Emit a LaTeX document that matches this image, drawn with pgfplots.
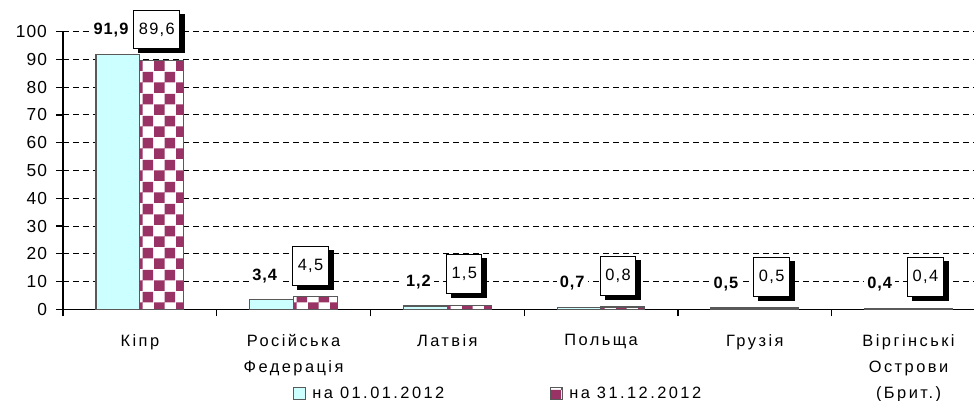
\documentclass[border=0pt]{standalone}
\usepackage{fontspec}
\setmainfont{Liberation Sans}[LetterSpace=15]
\newfontfamily\tickfont{Liberation Sans}[LetterSpace=6]
\newfontfamily\boldlab{Liberation Sans Bold}[LetterSpace=6]
\newfontfamily\boxlab{Liberation Sans}[LetterSpace=8]
\usepackage{pgfplots}
\pgfplotsset{compat=1.18}
\usetikzlibrary{patterns,shadows,calc}

\pgfdeclarepatternformonly{bigcheck}{\pgfpointorigin}{\pgfpoint{11pt}{11pt}}{\pgfpoint{11pt}{11pt}}{%
 \pgfpathrectangle{\pgfpointorigin}{\pgfpoint{5.5pt}{5.5pt}}%
 \pgfpathrectangle{\pgfpoint{5.5pt}{5.5pt}}{\pgfpoint{5.5pt}{5.5pt}}%
 \pgfusepath{fill}}

\definecolor{cyanbar}{HTML}{CCFFFF}
\definecolor{crimson}{HTML}{993366}

\begin{document}
\begin{tikzpicture}
\begin{axis}[
  scale only axis, width=461.2pt, height=138.8pt,
  xmin=-0.5, xmax=5.5, ymin=0, ymax=100,
  ybar=0pt, bar width=21.9pt,
  axis x line*=bottom, axis y line*=left,
  axis line style={black, line width=0.6pt},
  ytick={0,10,...,100},
  ymajorgrids,
  grid style={black, dash pattern=on 3pt off 2pt, line width=0.5pt},
  xtick={-0.5,0.5,...,5.5}, xticklabels={},
  extra x ticks={0,1,2,3,4,5},
  extra x tick labels={Кіпр, {Російська\\Федерація}, Латвія, Польща, Грузія, {Віргінські\\Острови\\(Брит.)}},
  extra x tick style={major tick length=0pt},
  tick align=outside, major tick length=3.5pt,
  tick style={black, line width=0.6pt},
  xticklabel style={font=\fontsize{8.2}{13}\selectfont, align=center, yshift=-9pt},
  yticklabel style={font=\tickfont\fontsize{8.7}{10}\selectfont, xshift=-1pt},
  /pgf/number format/assume math mode=true,
  clip=false,
  legend style={at={(0.2494,-0.305)}, anchor=west, draw=none, fill=none, inner sep=0pt,
    legend columns=2, font=\fontsize{8.2}{10}\selectfont,
    /tikz/every odd column/.append style={column sep=1pt},
    /tikz/every even column/.append style={column sep=51pt}},
  legend image code/.code={\draw[#1, line width=0.5pt] (0pt,-3pt) rectangle (6pt,3pt);},
]
\addplot[fill=cyanbar, draw=black!65, line width=0.6pt,
  nodes near coords={\pgfmathprintnumber[fixed,fixed zerofill,precision=1,use comma]{\pgfplotspointmeta}},
  nodes near coords style={font=\boldlab\fontsize{8.2}{10}\selectfont, anchor=center, yshift=12pt, xshift=-3.5pt, text=black, fill=white, inner sep=1.5pt}]
  coordinates {(0,91.9) (1,3.4) (2,1.2) (3,0.7) (4,0.5) (5,0.4)};
\addlegendentry{на 01.01.2012}
\addplot[fill=white, postaction={pattern=bigcheck, pattern color=crimson}, draw=black!65, line width=0.6pt,
  nodes near coords={\pgfmathprintnumber[fixed,fixed zerofill,precision=1,use comma]{\pgfplotspointmeta}},
  nodes near coords style={font=\boxlab\fontsize{8.2}{10}\selectfont, text=black, draw=black, fill=white, line width=0.5pt,
    drop shadow={shadow xshift=2.5pt, shadow yshift=-2pt, fill=black, opacity=1},
    minimum height=19.2pt, inner xsep=2.5pt, anchor=center, yshift=15.5pt, xshift=-2.5pt}]
  coordinates {(0,89.6) (1,4.5) (2,1.5) (3,0.8) (4,0.5) (5,0.4)};
\addlegendentry{на 31.12.2012}
\coordinate (O) at (axis cs:-0.5,0);
\end{axis}
\pgfresetboundingbox
\useasboundingbox ($(O)+(-31.5pt,-45.85pt)$) rectangle ($(O)+(455.5pt,154.65pt)$);
\end{tikzpicture}
\end{document}
